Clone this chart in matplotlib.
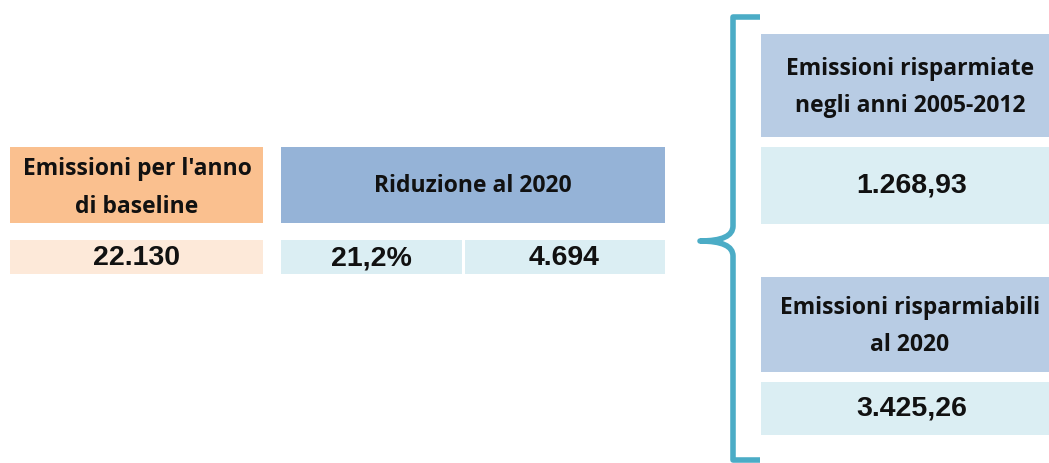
import matplotlib.pyplot as plt
from matplotlib.patches import Rectangle
from matplotlib.path import Path
from matplotlib.patches import PathPatch

# testi e valori
intestazione_baseline = "Emissioni per l'anno\ndi baseline"
valore_baseline = "22.130"
intestazione_riduzione = "Riduzione al 2020"
valori_riduzione = ["21,2%", "4.694"]
intestazioni_destra = ["Emissioni risparmiate\nnegli anni 2005-2012", "Emissioni risparmiabili\nal 2020"]
valori_destra = ["1.268,93", "3.425,26"]

ARANCIO = '#fac08f'
PESCA = '#fde9d9'
BLU = '#95b3d7'
BLU_CHIARO = '#b8cce4'
AZZURRO = '#dbeef3'
TEAL = '#4bacc6'

fig = plt.figure(figsize=(10.49, 4.63), dpi=100)
ax = fig.add_axes([0, 0, 1, 1])
ax.set_xlim(0, 1049)
ax.set_ylim(463, 0)
ax.axis('off')

font_titolo = dict(family='Open Sans', fontweight='bold', fontsize=16.5, color='#111111',
                   ha='center', va='center', linespacing=1.75)
font_valore = dict(family='Liberation Sans', fontweight='bold', fontsize=20.5, color='#111111',
                   ha='center', va='center')


def box(x0, y0, x1, y1, colore):
    ax.add_patch(Rectangle((x0, y0), x1 - x0, y1 - y0, facecolor=colore, edgecolor='none'))


# blocco sinistro
box(10, 147, 263, 223, ARANCIO)
ax.text(137, 188, intestazione_baseline, **font_titolo)
box(10, 240, 263, 274, PESCA)
ax.text(136, 258, valore_baseline, **font_valore)

# blocco riduzione
box(281, 147, 665, 223, BLU)
ax.text(473, 186, intestazione_riduzione, **font_titolo)
box(281, 240, 462, 274, AZZURRO)
box(465, 240, 665, 274, AZZURRO)
ax.text(371, 258, valori_riduzione[0], **font_valore)
ax.text(564, 258, valori_riduzione[1], **font_valore)

# parentesi graffa
verts = [(760, 17), (733, 17), (733, 17), (733, 30),
         (733, 226), (733, 241), (700, 241),
         (733, 241), (733, 256), (733, 450),
         (733, 460), (733, 460), (760, 460)]
codes = [Path.MOVETO, Path.CURVE3, Path.CURVE3, Path.LINETO,
         Path.LINETO, Path.CURVE3, Path.CURVE3,
         Path.CURVE3, Path.CURVE3, Path.LINETO,
         Path.CURVE3, Path.CURVE3, Path.LINETO]
ax.add_patch(PathPatch(Path(verts, codes), facecolor='none', edgecolor=TEAL, lw=4,
                       capstyle='butt', joinstyle='round'))

# blocchi destri
posizioni = [((34, 137), (147, 224)), ((277, 372), (382, 435))]
for titolo, valore, (h, v) in zip(intestazioni_destra, valori_destra, posizioni):
    box(761, h[0], 1049, h[1], BLU_CHIARO)
    ax.text(910, (h[0] + h[1]) / 2 + 2, titolo, **font_titolo)
    box(761, v[0], 1049, v[1], AZZURRO)
    ax.text(912, (v[0] + v[1]) / 2, valore, **font_valore)

fig.savefig('out.png', dpi=100)
